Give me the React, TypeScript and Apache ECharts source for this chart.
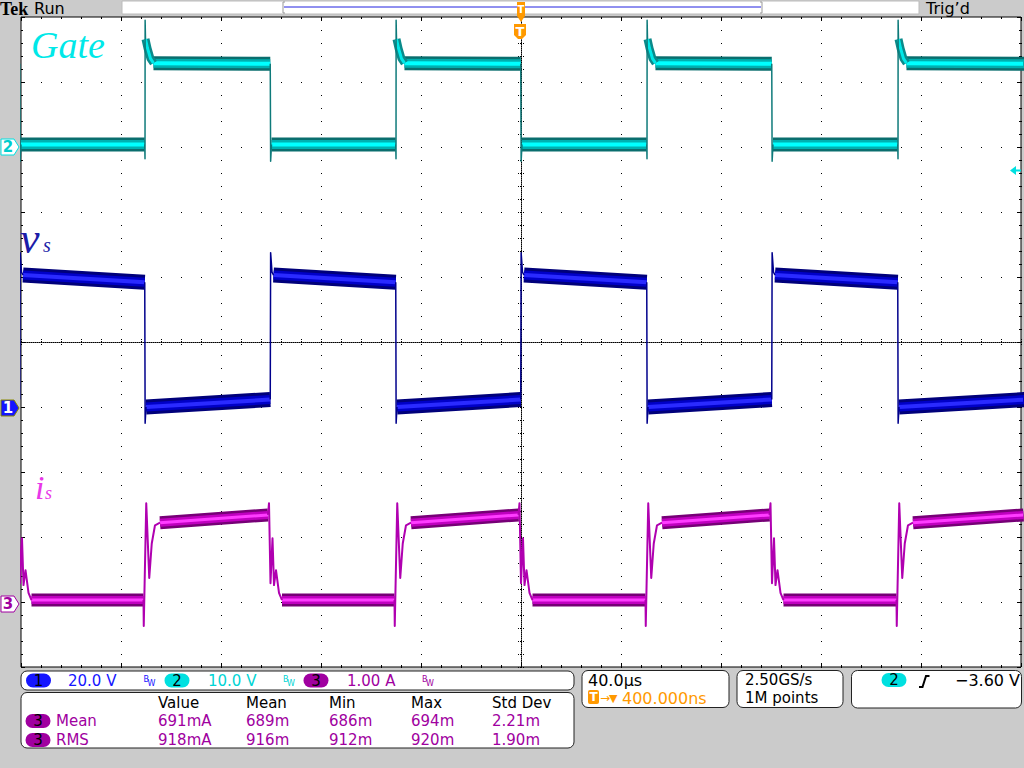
import React, { useEffect, useRef } from "react";
import * as echarts from "echarts";

// ---- Time base (µs, trigger at 0) ----
const timeStart = -200;
const timeEnd = 200;
const fallTimes = [-200.4, -100.2, 0, 100.4]; // gate falling edges
const riseTimes = [-150.4, -50.0, 50.4, 150.8]; // gate rising edges

// ---- Channel scales (unit/div) and ground offsets (div) ----
const gateScale = 10;
const gateOffset = 3;
const vsScale = 20;
const vsOffset = -1;
const isScale = 1;
const isOffset = -4;

// ---- Gate (V) ----
const gateLow = 0.4;
const gateHigh = 12.8;
const gateRiseDecay: number[][] = [[0.2, 16.6], [1.0, 15.2], [2.2, 13.6], [3.4, 12.9]];
const gateRiseEdge: number[][] = [[-0.1, 0.4], [0, -1.8], [0.05, 19.5], [0.2, 16.6]];
const gateFallEdge: number[][] = [[-0.1, 12.8], [0, 12.8], [0.05, -2.2], [0.4, 0.4]];

// ---- vs (V) ----
const vsHigh = [40.6, 38.4]; // start, end of off-state plateau
const vsLow = [0.0, 2.3]; // start, end of on-state plateau
const vsFallEdge: number[][] = [[-0.1, 38.4], [0.05, -5.0], [0.4, 0.0]];
const vsRiseEdge: number[][] = [[-0.1, 2.3], [0.05, 47.5], [0.6, 41.5], [1.2, 40.6]];

// ---- is (A) ----
const isHigh = [1.22, 1.34];
const isLow = [0.03, 0.03];
const isRiseEdge: number[][] = [[-0.6, 0.03], [-0.5, -0.37], [0.5, 1.52], [1.7, 0.37], [2.7, 0.9], [4.0, 1.18], [6.0, 1.22]];
const isFallEdge: number[][] = [[-1.0, 1.34], [-0.6, 1.52], [0.0, 0.29], [0.8, 0.98], [1.4, 0.26], [2.2, 0.49], [3.4, 0.14], [4.6, 0.03]];

// ---- Readouts ----
const channelReadouts = [
  { ch: "1", text: "20.0 V" },
  { ch: "2", text: "10.0 V" },
  { ch: "3", text: "1.00 A" },
];
const measHeaders = ["Value", "Mean", "Min", "Max", "Std Dev"];
const measNames = ["Mean", "RMS"];
const measValues = [
  ["691mA", "689m", "686m", "694m", "2.21m"],
  ["918mA", "916m", "912m", "920m", "1.90m"],
];
const timeDiv = "40.0µs";
const trigPos = "400.000ns";
const sampleRate = "2.50GS/s";
const recordLen = "1M points";
const trigLevel = "−3.60 V";

const UI = '"DejaVu Sans", sans-serif';
const CYAN = "#00e0e0";
const BLUE = "#1515ff";
const PURPLE = "#a000a0";
const ORANGE = "#ff9900";

type P = [number, number | null];

const edgesSorted = [
  ...fallTimes.map((t) => ({ t, rise: false })),
  ...riseTimes.map((t) => ({ t, rise: true })),
].sort((a, b) => a.t - b.t);
const intervals = edgesSorted.map((e, i) => ({
  start: e.t,
  end: i + 1 < edgesSorted.length ? edgesSorted[i + 1].t : timeEnd + 2,
  gateHigh: e.rise,
}));

function conv(pts: P[], scale: number, offset: number): P[] {
  return pts.map(([x, v]) => [x, v == null ? null : offset + v / scale]);
}

function buildBand(kind: "gate" | "vs" | "is"): P[] {
  const out: P[] = [];
  intervals.forEach((iv) => {
    if (kind === "gate") {
      if (iv.gateHigh) {
        const last = gateRiseDecay[gateRiseDecay.length - 1];
        out.push([iv.start + last[0], last[1]]);
        out.push([iv.end - 0.1, gateHigh]);
      } else {
        out.push([iv.start + 0.4, gateLow]);
        out.push([iv.end - 0.1, gateLow]);
      }
    } else if (kind === "vs") {
      if (iv.gateHigh) {
        out.push([iv.start + 0.4, vsLow[0]]);
        out.push([iv.end - 0.1, vsLow[1]]);
      } else {
        out.push([iv.start + 1.2, vsHigh[0]]);
        out.push([iv.end - 0.1, vsHigh[1]]);
      }
    } else {
      if (iv.gateHigh) {
        out.push([iv.start + 6.0, isHigh[0]]);
        out.push([iv.end - 1.0, isHigh[1]]);
      } else {
        out.push([iv.start + 4.6, isLow[0]]);
        out.push([iv.end - 0.6, isLow[1]]);
      }
    }
    out.push([iv.end, null]);
  });
  return out;
}

function buildEdges(riseShape: number[][], fallShape: number[][]): P[] {
  const out: P[] = [];
  riseTimes.forEach((t) => {
    riseShape.forEach(([dt, v]) => out.push([t + dt, v]));
    out.push([t + 10, null]);
  });
  fallTimes.forEach((t) => {
    fallShape.forEach(([dt, v]) => out.push([t + dt, v]));
    out.push([t + 10, null]);
  });
  return out;
}

function bandSeries(data: P[], layers: { w: number; c: string }[]) {
  return layers.map((l) => ({
    type: "line",
    data,
    showSymbol: false,
    silent: true,
    connectNulls: false,
    lineStyle: { width: l.w, color: l.c },
    z: 3,
  }));
}

function edgeSeries(data: P[], color: string, width: number, z = 4) {
  return {
    type: "line",
    data,
    showSymbol: false,
    silent: true,
    connectNulls: false,
    lineStyle: { width, color, join: "round" },
    z,
  };
}

const Z = 50;
function txt(x: number, y: number, text: string, fill: string, size = 15, extra: any = {}) {
  return {
    type: "text",
    x,
    y,
    z: Z,
    silent: true,
    style: { text, fill, font: `${size}px ${UI}`, verticalAlign: "middle", align: "left", ...extra },
  };
}
function pill(cx: number, cy: number, w: number, h: number, fill: string, label: string, labelFill = "#000") {
  return [
    { type: "rect", z: Z, silent: true, shape: { x: cx - w / 2, y: cy - h / 2, width: w, height: h, r: h / 2 }, style: { fill } },
    { type: "text", z: Z, silent: true, x: cx, y: cy, style: { text: label, fill: labelFill, font: `15px ${UI}`, align: "center", verticalAlign: "middle" } },
  ];
}
function panel(x: number, y: number, w: number, h: number) {
  return { type: "rect", z: Z - 1, silent: true, shape: { x, y, width: w, height: h, r: 6 }, style: { fill: "#fff", stroke: "#222", lineWidth: 1 } };
}
function tag(y: number, fill: string, stroke: string, label: string, labelFill: string) {
  return [
    { type: "polygon", z: Z, silent: true, shape: { points: [[1, y - 8], [14, y - 8], [19, y], [14, y + 8], [1, y + 8]] }, style: { fill, stroke, lineWidth: 1 } },
    { type: "text", z: Z, silent: true, x: 8, y, style: { text: label, fill: labelFill, font: `bold 15px ${UI}`, align: "center", verticalAlign: "middle" } },
  ];
}

function buildGraphics() {
  const g: any[] = [];
  // top bar
  g.push({ type: "text", z: Z, x: 0, y: 9, style: { text: "Tek", fill: "#000", font: 'bold 18px "Liberation Serif"', verticalAlign: "middle" } });
  g.push(txt(34, 8, "Run", "#000", 16));
  g.push({ type: "rect", z: Z, shape: { x: 122, y: 1, width: 797, height: 13 }, style: { fill: "#fff", stroke: "#bbb", lineWidth: 1 } });
  g.push({ type: "line", z: Z, shape: { x1: 284, y1: 7, x2: 761, y2: 7 }, style: { stroke: "#2020e0", lineWidth: 1 } });
  g.push({ type: "polyline", z: Z, shape: { points: [[285, 2], [283, 2], [283, 13], [285, 13]] }, style: { stroke: "#999", lineWidth: 1, fill: null } });
  g.push({ type: "polyline", z: Z, shape: { points: [[760, 2], [762, 2], [762, 13], [760, 13]] }, style: { stroke: "#999", lineWidth: 1, fill: null } });
  g.push(txt(926, 8, "Trig\u2019d", "#000", 16));
  // trigger position markers
  g.push({ type: "polygon", z: Z, shape: { points: [[517, 2], [525, 2], [525, 16], [521, 22], [517, 16]] }, style: { fill: ORANGE } });
  g.push({ type: "text", z: Z, x: 521, y: 9, style: { text: "T", fill: "#fff", font: `bold 10px ${UI}`, align: "center", verticalAlign: "middle" } });
  g.push({ type: "polygon", z: Z, shape: { points: [[514, 24], [526, 24], [526, 35], [522, 39], [518, 39], [514, 35]] }, style: { fill: ORANGE } });
  g.push({ type: "text", z: Z, x: 520, y: 31, style: { text: "T", fill: "#fff", font: `bold 13px ${UI}`, align: "center", verticalAlign: "middle" } });
  // channel labels
  g.push({ type: "text", z: Z, x: 31, y: 45, style: { text: "Gate", fill: "#00e8e8", font: 'italic 38px "Liberation Serif"', verticalAlign: "middle" } });
  g.push({ type: "text", z: Z, x: 20, y: 238, style: { text: "v", fill: "#1c1ca8", font: 'italic 44px "Liberation Serif"', verticalAlign: "middle" } });
  g.push({ type: "text", z: Z, x: 43, y: 245, style: { text: "s", fill: "#1c1ca8", font: 'italic 20px "Liberation Serif"', verticalAlign: "middle" } });
  g.push({ type: "text", z: Z, x: 35, y: 487, style: { text: "i", fill: "#e838e8", font: 'italic 34px "Liberation Serif"', verticalAlign: "middle" } });
  g.push({ type: "text", z: Z, x: 45, y: 493, style: { text: "s", fill: "#e838e8", font: 'italic 18px "Liberation Serif"', verticalAlign: "middle" } });
  // ground markers
  g.push(...tag(147, "#fff", CYAN, "2", "#00cccc"));
  g.push(...tag(408, BLUE, "#888800", "1", "#fff"));
  g.push(...tag(604, "#fff", PURPLE, "3", PURPLE));
  // trigger level arrow
  g.push({ type: "polygon", z: Z, shape: { points: [[1010, 170.5], [1016, 166], [1016, 175]] }, style: { fill: CYAN } });
  g.push({ type: "line", z: Z, shape: { x1: 1015, y1: 170.5, x2: 1021, y2: 170.5 }, style: { stroke: CYAN, lineWidth: 2 } });

  // panels
  g.push(panel(21, 671, 553, 19));
  g.push(panel(21, 692.5, 553, 55.5));
  g.push(panel(582, 670.5, 147, 37));
  g.push(panel(737, 670.5, 106, 37));
  g.push(panel(851.5, 670.5, 170, 37.5));

  // channel readouts
  const chFill = [BLUE, CYAN, PURPLE];
  const txtFill = [BLUE, "#00d4d4", PURPLE];
  const pillX = [38.5, 177, 316];
  const textX = [68, 208, 347];
  const bwX = [143.5, 283, 422];
  channelReadouts.forEach((r, i) => {
    g.push(...pill(pillX[i], 680.5, 25, 14, chFill[i], r.ch));
    g.push(txt(textX[i], 681, r.text, txtFill[i], 15));
    g.push(txt(bwX[i], 679, "B", txtFill[i], 8));
    g.push(txt(bwX[i] + 4, 683, "W", txtFill[i], 8));
  });

  // measurements
  const colX = [158, 246, 329, 411, 492];
  measHeaders.forEach((h, i) => g.push(txt(colX[i], 703, h, "#000", 15)));
  measNames.forEach((n, r) => {
    const y = 721 + r * 19;
    g.push(...pill(38, y, 25, 14, PURPLE, "3"));
    g.push(txt(56, y, n, PURPLE, 15));
    measValues[r].forEach((v, i) => g.push(txt(colX[i], y, v, PURPLE, 15)));
  });

  // horizontal panel
  g.push(txt(588, 680, timeDiv, "#000", 16));
  g.push({ type: "rect", z: Z, shape: { x: 588, y: 690, width: 11, height: 14, r: 2 }, style: { fill: ORANGE } });
  g.push({ type: "text", z: Z, x: 593.5, y: 697, style: { text: "T", fill: "#fff", font: `bold 12px ${UI}`, align: "center", verticalAlign: "middle" } });
  g.push(txt(600, 698, "\u2192", ORANGE, 12));
  g.push(txt(609, 698, "\u25BC", ORANGE, 11));
  g.push(txt(622, 698, trigPos, ORANGE, 16));
  // acquisition panel
  g.push(txt(745, 680, sampleRate, "#000", 15));
  g.push(txt(745, 698, recordLen, "#000", 15));
  // trigger panel
  g.push(...pill(894, 680, 25, 14, CYAN, "2"));
  g.push({ type: "polyline", z: Z, shape: { points: [[919, 687], [922.5, 687], [926, 676], [929.5, 676]] }, style: { stroke: "#000", lineWidth: 2, fill: null } });
  g.push(txt(955, 680, trigLevel, "#000", 16));
  return g;
}

function App() {
  const ref = useRef<HTMLDivElement>(null);
  useEffect(() => {
    if (!ref.current) return;
    const chart = echarts.init(ref.current, undefined, { renderer: "svg" });
    const tick = { color: "#000", width: 1 };
    const centerTick = { color: "#000", width: 1, type: [1, 1] };
    const xBase = { type: "value", min: timeStart, max: timeEnd, interval: 40, axisLabel: { show: false } };
    const yBase = { type: "value", min: -5, max: 5, interval: 1, axisLabel: { show: false } };

    const gateB = conv(buildBand("gate"), gateScale, gateOffset);
    const vsB = conv(buildBand("vs"), vsScale, vsOffset);
    const isB = conv(buildBand("is"), isScale, isOffset);
    const gateE = conv(buildEdges(gateRiseEdge, gateFallEdge), gateScale, gateOffset);
    const gateD = conv(buildEdges(gateRiseDecay, []), gateScale, gateOffset);
    const vsE = conv(buildEdges(vsFallEdge, vsRiseEdge), vsScale, vsOffset);
    const isE = conv(buildEdges(isRiseEdge, isFallEdge), isScale, isOffset);

    chart.setOption({
      animation: false,
      backgroundColor: "#cbcbcb",
      grid: {
        left: 21,
        top: 17,
        width: 1000,
        height: 650,
        show: true,
        backgroundColor: "#fff",
        borderColor: "#000",
        borderWidth: 1,
        containLabel: false,
        outerBoundsMode: "none",
      },
      xAxis: [
        {
          ...xBase,
          position: "bottom",
          axisLine: { show: false, onZero: false },
          axisTick: { show: true, inside: true, length: 4, lineStyle: tick },
          minorTick: { show: true, splitNumber: 5, length: 2, lineStyle: tick },
          splitLine: { show: true, lineStyle: { color: "#000", width: 1, type: [1, 12] } },
        },
        {
          ...xBase,
          position: "top",
          axisLine: { show: false, onZero: false },
          axisTick: { show: true, inside: true, length: 4, lineStyle: tick },
          minorTick: { show: true, splitNumber: 5, length: 2, lineStyle: tick },
          splitLine: { show: false },
        },
        {
          ...xBase,
          position: "bottom",
          axisLine: { show: true, onZero: true, onZeroAxisIndex: 0, lineStyle: { color: "#000", width: 1, type: [1, 1] } },
          axisTick: { show: true, inside: false, length: 4, lineStyle: centerTick },
          minorTick: { show: true, splitNumber: 5, length: 4, lineStyle: centerTick },
          splitLine: { show: false },
        },
        {
          ...xBase,
          position: "bottom",
          axisLine: { show: false, onZero: true, onZeroAxisIndex: 0 },
          axisTick: { show: true, inside: true, length: 4, lineStyle: centerTick },
          minorTick: { show: true, splitNumber: 5, length: 4, lineStyle: centerTick },
          splitLine: { show: false },
        },
      ],
      yAxis: [
        {
          ...yBase,
          position: "left",
          axisLine: { show: false, onZero: false },
          axisTick: { show: true, inside: true, length: 4, lineStyle: tick },
          minorTick: { show: true, splitNumber: 5, length: 2, lineStyle: tick },
          splitLine: { show: true, lineStyle: { color: "#000", width: 1, type: [1, 19] } },
        },
        {
          ...yBase,
          position: "right",
          axisLine: { show: false, onZero: false },
          axisTick: { show: true, inside: true, length: 4, lineStyle: tick },
          minorTick: { show: true, splitNumber: 5, length: 2, lineStyle: tick },
          splitLine: { show: false },
        },
        {
          ...yBase,
          position: "left",
          axisLine: { show: true, onZero: true, onZeroAxisIndex: 0, lineStyle: { color: "#000", width: 1, type: [1, 1] } },
          axisTick: { show: true, inside: false, length: 4, lineStyle: centerTick },
          minorTick: { show: true, splitNumber: 5, length: 4, lineStyle: centerTick },
          splitLine: { show: false },
        },
        {
          ...yBase,
          position: "left",
          axisLine: { show: false, onZero: true, onZeroAxisIndex: 0 },
          axisTick: { show: true, inside: true, length: 4, lineStyle: centerTick },
          minorTick: { show: true, splitNumber: 5, length: 4, lineStyle: centerTick },
          splitLine: { show: false },
        },
      ],
      series: [
        ...bandSeries(gateB, [
          { w: 14, c: "#0a6e6e" },
          { w: 9, c: "#00b0b0" },
          { w: 4, c: "#00ffff" },
        ]),
        ...bandSeries(vsB, [
          { w: 15, c: "#00007a" },
          { w: 9, c: "#0000c8" },
          { w: 4, c: "#2a2aff" },
        ]),
        ...bandSeries(isB, [
          { w: 13, c: "#760076" },
          { w: 8, c: "#c000c0" },
          { w: 3, c: "#ff3cff" },
        ]),
        edgeSeries(gateD, "#0a8a8a", 8, 3),
        edgeSeries(gateD, "#00e8e8", 3, 3),
        edgeSeries(gateE, "#0e7a7a", 1.5),
        edgeSeries(vsE, "#00008c", 1.5),
        edgeSeries(isE, "#b000b0", 2),
      ],
      graphic: { elements: buildGraphics() },
    });
    return () => chart.dispose();
  }, []);
  return <div ref={ref} style={{ position: "fixed", left: 0, top: 0, width: 1024, height: 768 }} />;
}

export default App;
